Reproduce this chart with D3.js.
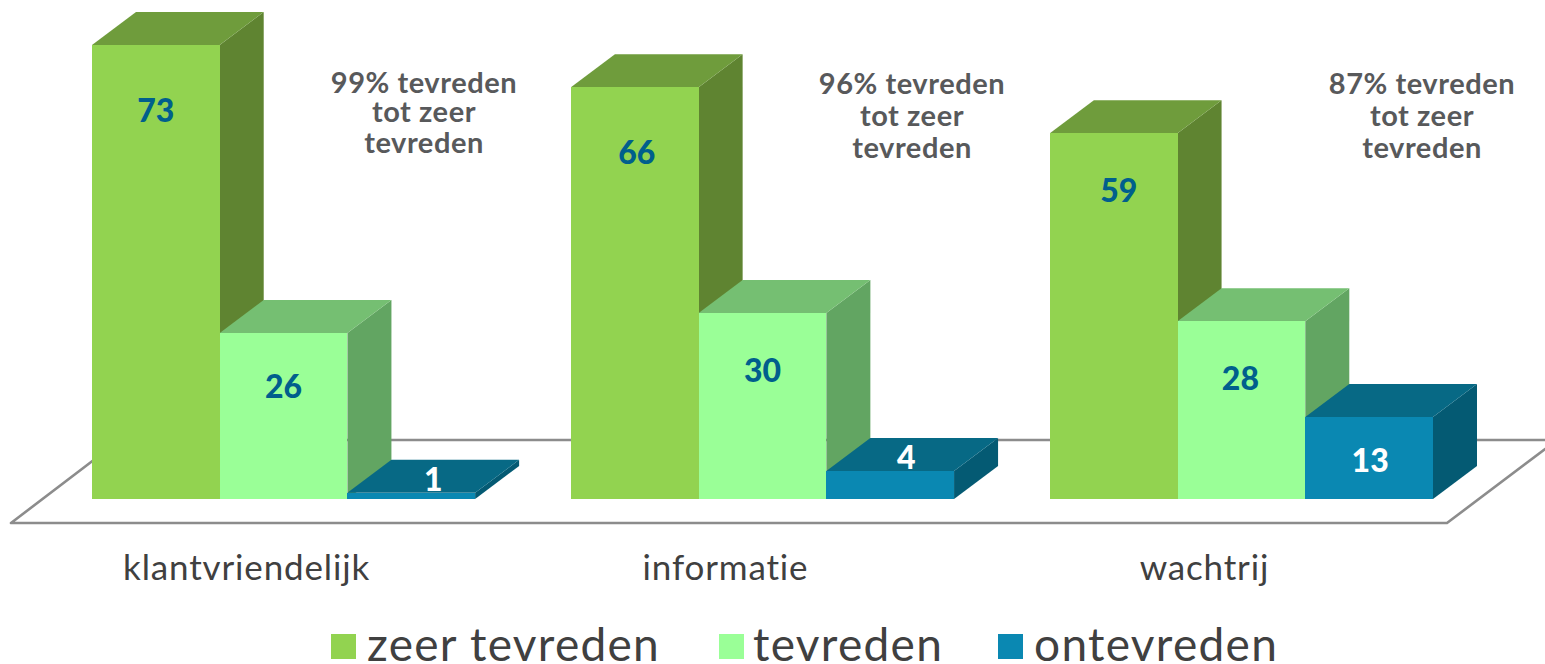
<!DOCTYPE html>
<html>
<head>
<meta charset="utf-8">
<script src="https://cdn.jsdelivr.net/npm/d3@7"></script>
<style>
  html, body { margin: 0; padding: 0; background: #fff; overflow: hidden; }
  text { font-family: Lato, "Open Sans", sans-serif; }
</style>
</head>
<body>
<div id="chart"></div>
<script>
// data
var categories = ['klantvriendelijk', 'informatie', 'wachtrij'];
var seriesNames = ['zeer tevreden', 'tevreden', 'ontevreden'];
// printed labels
var zeerLabels = [73, 66, 59];
var tevredenLabels = [26, 30, 28];
var ontevredenLabels = [1, 4, 13];
// bar heights as drawn (the printed labels are rounded)
var zeerValues = [73, 66.2, 58.8];
var tevredenValues = [26.7, 29.9, 28.6];
var ontevredenValues = [1, 4.5, 13.2];
var notes = ['99% tevreden', '96% tevreden', '87% tevreden'];

var width = 1545, height = 664;
var depthX = 44, depthY = 33;   // 3d offset of the bars
var seriesValues = [zeerValues, tevredenValues, ontevredenValues];
var seriesLabels = [zeerLabels, tevredenLabels, ontevredenLabels];

// front, top, side
var colours = [
  ['#92d350', '#6f9c3c', '#5f8431'],
  ['#9aff97', '#75bf72', '#62a562'],
  ['#0a88b2', '#076985', '#045a73']
];
var labelColours = ['#005f8c', '#005f8c', '#ffffff'];
// how far the label sits under the top of the bar
var labelOffsets = [[65, 65, 57], [54, 57, 57], [-13, -14, 44]];
var labelShift = [[0, 2, 5], [0, 0, -1], [22, 16, 1]];

var svg = d3.select('#chart').append('svg')
  .attr('width', width)
  .attr('height', height);

var x0 = d3.scaleBand().domain(categories).range([92, 1433]).paddingInner(0.2).paddingOuter(0);
var x1 = d3.scaleBand().domain(seriesNames).range([0, x0.bandwidth()]);
var y = d3.scaleLinear().domain([0, 73]).range([499, 45]);

// floor
var floor = svg.append('g')
  .attr('fill', 'none')
  .attr('stroke', '#8c8c8c')
  .attr('stroke-width', 2.6)
  .attr('stroke-linejoin', 'round');
floor.append('path').attr('d', 'M120,440 L11,523 L1447,523 L1557,440 L120,440 Z');

function poly(pts){
  return pts.map(function(p){ return p.join(','); }).join(' ');
}

categories.forEach(function(cat, c){
  seriesNames.forEach(function(name, s){
    var v = seriesValues[s][c];
    var left = x0(cat) + x1(name);
    var right = left + x1.bandwidth();
    var top = y(v);
    var bottom = y(0);
    var g = svg.append('g').attr('class', 'bar');
    // side
    g.append('polygon')
      .attr('points', poly([[right, top], [right + depthX, top - depthY], [right + depthX, bottom - depthY], [right, bottom]]))
      .attr('fill', colours[s][2]);
    // top
    g.append('polygon')
      .attr('points', poly([[left, top], [left + depthX, top - depthY], [right + depthX, top - depthY], [right, top]]))
      .attr('fill', colours[s][1]);
    // front, crisp so the floor line does not show through the seams
    g.append('rect')
      .attr('x', left)
      .attr('y', top)
      .attr('width', x1.bandwidth())
      .attr('height', bottom - top)
      .attr('shape-rendering', 'crispEdges')
      .attr('fill', colours[s][0]);
  });
});

// value labels go on top of all the bars
categories.forEach(function(cat, c){
  seriesNames.forEach(function(name, s){
    svg.append('text')
      .attr('x', x0(cat) + x1(name) + x1.bandwidth() / 2 + labelShift[s][c])
      .attr('y', y(seriesValues[s][c]) + labelOffsets[s][c])
      .attr('dy', '0.36em')
      .attr('text-anchor', 'middle')
      .attr('font-size', 32)
      .attr('font-weight', 900)
      .attr('fill', labelColours[s])
      .text(seriesLabels[s][c]);
  });
});

// category labels
svg.selectAll('.cat')
  .data(categories)
  .enter().append('text')
  .attr('class', 'cat')
  .attr('x', function(d){ return x0(d) + x0.bandwidth() / 2 - 37; })
  .attr('y', 580)
  .attr('text-anchor', 'middle')
  .attr('font-size', 35)
  .attr('letter-spacing', 0.85)
  .attr('fill', '#404040')
  .text(function(d){ return d; });

// notes next to the bars
var noteX = [424, 912, 1422];
var noteY = [[93, 122, 153], [94, 126, 158], [94, 126, 158]];
notes.forEach(function(n, i){
  [n, 'tot zeer', 'tevreden'].forEach(function(line, j){
    svg.append('text')
      .attr('x', noteX[i])
      .attr('y', noteY[i][j])
      .attr('text-anchor', 'middle')
      .attr('font-size', 29)
      .attr('font-weight', 700)
      .attr('letter-spacing', 0.55)
      .attr('fill', '#58595b')
      .text(line);
  });
});

// legend
var legendBoxX = [331, 719, 998];
var legendTextX = [367, 753, 1034];
seriesNames.forEach(function(name, i){
  svg.append('rect')
    .attr('x', legendBoxX[i])
    .attr('y', 634)
    .attr('width', 25)
    .attr('height', 25)
    .attr('fill', colours[i][0]);
  svg.append('text')
    .attr('x', legendTextX[i])
    .attr('y', 661)
    .attr('font-size', 46)
    .attr('letter-spacing', 1.3)
    .attr('fill', '#404040')
    .text(name);
});
</script>
</body>
</html>
